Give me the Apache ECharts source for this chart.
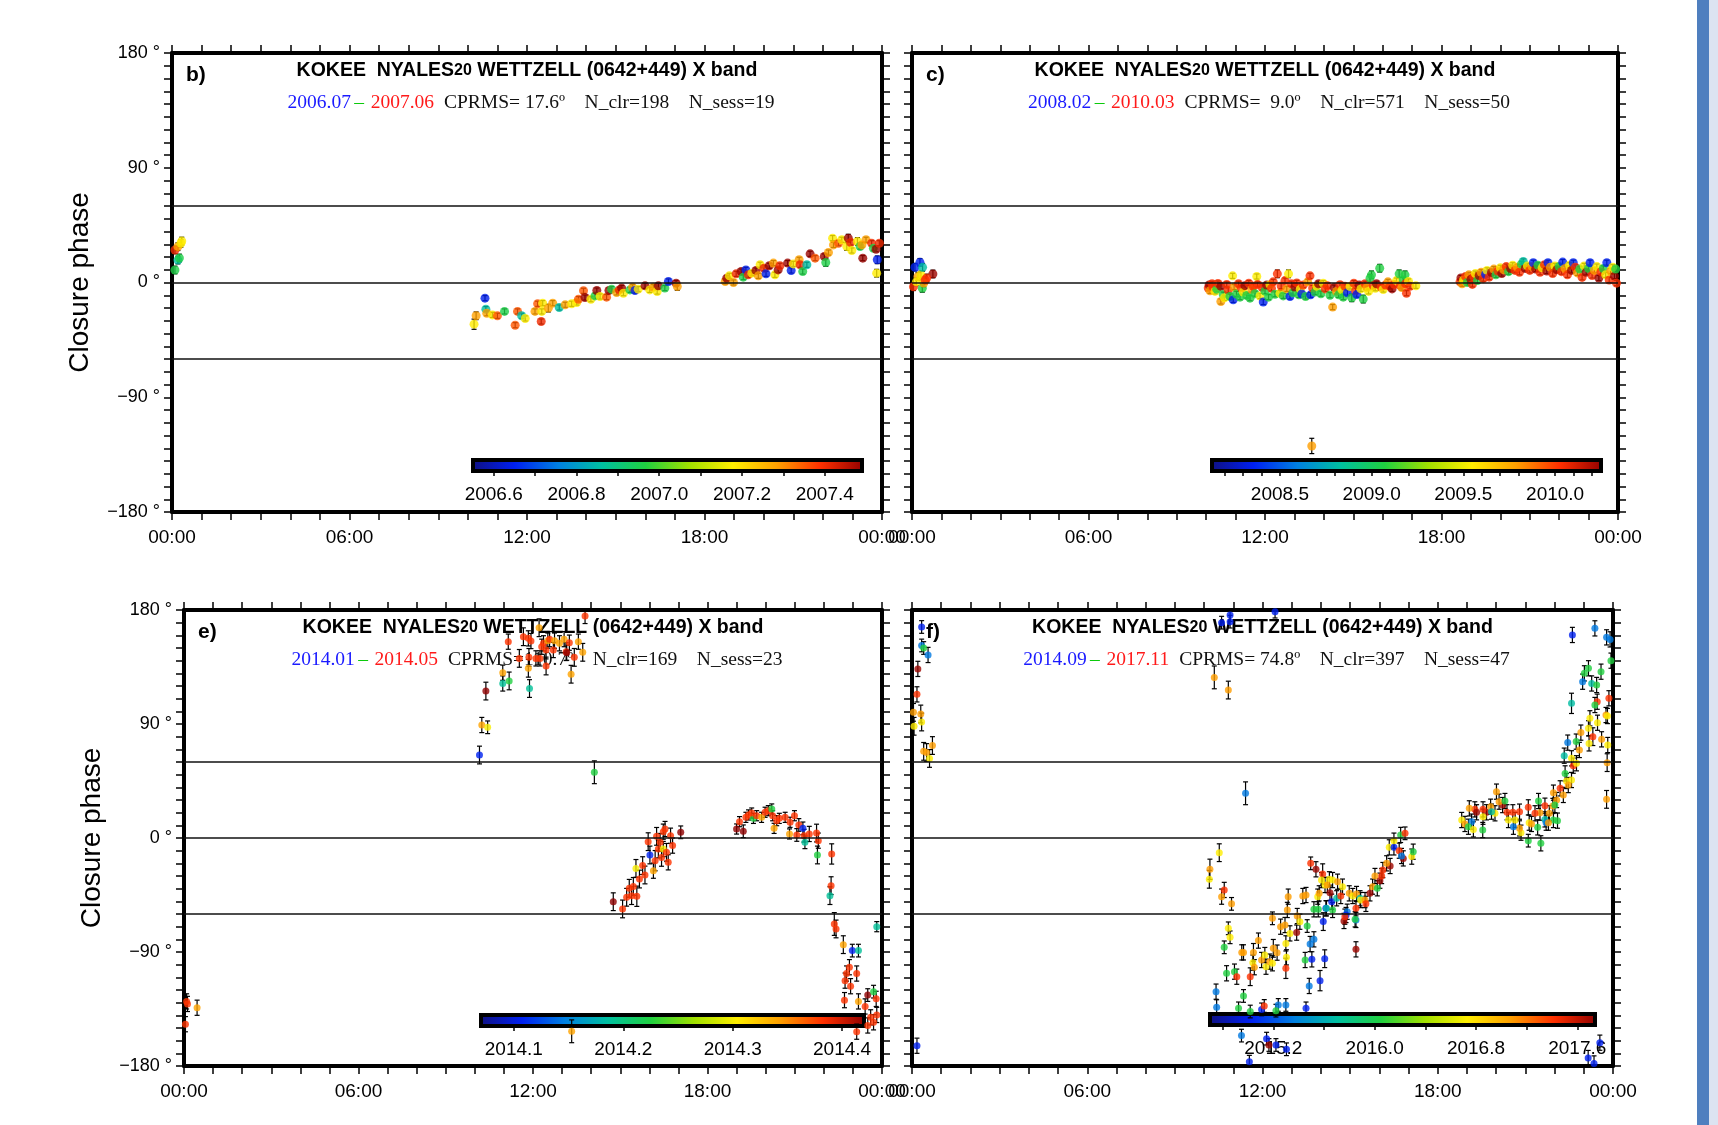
<!DOCTYPE html>
<html>
<head>
<meta charset="UTF-8">
<title>Closure phase</title>
<script src="https://cdn.jsdelivr.net/npm/echarts@6/dist/echarts.min.js"></script>
<style>
  * { margin: 0; padding: 0; }
  body { background: #fff; }
  #chart { width: 1718px; height: 1125px; }
</style>
</head>
<body>
<div id="chart"></div>
<script>
// each point: [hour of day, closure phase (deg), epoch (yr) -> colour, error (deg)]
const ptsB = [
  [0.10,9.8,2006.96,3],[0.20,17.6,2006.86,3],[0.25,19.2,2006.96,3],[0.10,25.5,2007.40,3],[0.20,28.1,2007.28,3],
  [0.30,30.7,2007.18,3],[0.33,32.5,2007.18,3],
  [10.21,-32.7,2007.18,4],[10.28,-26.1,2007.28,3],[10.58,-12.3,2006.65,2],[10.61,-20.9,2006.86,2],[10.64,-24.1,2007.28,2],
  [10.83,-25.4,2007.18,2],[11.00,-26.1,2007.35,2],[11.24,-22.7,2006.96,2],[11.60,-33.5,2007.35,2],[11.68,-22.7,2007.35,2],
  [11.82,-26.1,2006.86,2],[11.94,-28.2,2007.18,2],[12.27,-22.7,2007.28,2],[12.36,-16.7,2007.35,2],[12.48,-30.6,2007.40,2],
  [12.50,-22.7,2007.18,2],[12.53,-16.2,2007.18,2],[12.72,-20.1,2007.28,3],[12.87,-16.2,2007.28,2],[13.09,-19.6,2006.86,2],
  [13.29,-17.5,2007.28,2],[13.51,-16.7,2007.18,2],[13.68,-15.7,2007.18,2],[13.74,-13.1,2007.35,2],[13.91,-6.5,2007.35,2],
  [13.96,-11.8,2007.48,2],[14.16,-13.1,2007.18,2],[14.30,-10.5,2006.96,2],[14.36,-6.3,2007.48,2],[14.47,-11.0,2007.18,2],
  [14.69,-11.5,2007.35,2],[14.77,-6.3,2007.48,2],[14.86,-5.2,2006.96,2],[15.03,-7.8,2007.28,2],[15.12,-5.8,2007.40,2],
  [15.20,-4.4,2007.48,2],[15.26,-8.4,2007.18,2],[15.48,-5.8,2006.96,2],[15.57,-3.7,2007.28,2],[15.65,-6.3,2006.65,2],
  [15.76,-5.2,2007.18,2],[15.99,-2.6,2007.48,2],[16.15,-5.8,2007.18,2],[16.27,-3.7,2007.28,2],[16.40,-7.1,2007.18,2],
  [16.44,-2.6,2007.48,2],[16.66,-4.4,2006.96,2],[16.78,0.8,2006.65,2],[17.04,-0.5,2007.48,2],[17.08,-3.1,2007.28,3],
  [18.70,0.8,2007.28,2],[18.75,3.4,2007.48,2],[18.84,5.2,2007.18,2],[18.98,0.0,2007.28,2],[19.07,6.8,2007.40,2],
  [19.24,8.6,2007.48,2],[19.31,4.2,2006.96,2],[19.40,9.9,2006.65,2],[19.48,6.0,2007.40,2],[19.60,7.3,2007.18,2],
  [19.74,9.4,2007.48,2],[19.82,5.2,2007.28,2],[19.88,13.9,2007.18,2],[20.01,11.2,2007.40,2],[20.08,6.8,2006.65,2],
  [20.19,13.1,2007.48,2],[20.33,15.2,2007.28,2],[20.38,6.0,2007.18,2],[20.49,9.9,2007.48,2],[20.55,13.1,2007.40,2],
  [20.81,15.2,2007.48,2],[20.93,9.4,2006.65,2],[21.00,14.6,2007.18,2],[21.20,17.8,2007.28,2],[21.23,13.9,2007.40,2],
  [21.32,8.6,2006.96,2],[21.46,13.9,2006.86,2],[21.57,22.5,2007.48,2],[21.74,19.1,2007.35,2],[22.05,20.4,2007.48,2],
  [22.10,15.7,2006.96,3],[22.19,23.5,2007.28,2],[22.33,34.8,2007.18,2],[22.36,29.5,2007.28,2],[22.53,30.8,2007.35,2],
  [22.64,33.5,2007.18,2],[22.81,28.2,2007.18,3],[22.86,34.8,2007.48,3],[22.94,31.4,2007.40,2],[22.98,25.1,2007.18,2],
  [23.17,32.2,2007.18,3],[23.26,28.2,2006.96,2],[23.32,29.5,2007.28,2],[23.35,19.1,2007.48,2],[23.46,33.5,2007.28,2],
  [23.65,30.8,2007.40,2],[23.71,26.9,2006.96,2],[23.80,26.1,2007.48,2],[23.84,17.8,2006.65,3],[23.82,7.3,2007.18,3],
  [23.91,30.8,2007.40,2]
];

const ptsC = [
  [0.27,15.8,2008.37,3],[0.10,12.0,2008.37,3],[0.20,4.6,2009.78,3],[0.30,5.9,2009.54,3],[0.05,-3.3,2010.02,3],
  [0.35,-4.6,2009.07,3],[0.71,6.7,2010.22,3],[0.50,3.5,2010.02,3],[0.40,-0.4,2009.78,3],[0.36,11.9,2008.83,3],
  [0.15,0.5,2009.54,3],[0.45,2.0,2010.02,3],
  [10.07,-4.4,2010.02,2],[10.10,-2.0,2010.22,2],[10.13,-6.5,2009.78,2],[10.20,-1.0,2010.02,2],[10.24,-3.8,2010.02,2],
  [10.30,-7.0,2009.54,2],[10.36,-5.2,2009.07,2],[10.40,-0.8,2010.02,2],[10.50,-14.9,2009.78,2],[10.50,-3.0,2010.22,2],
  [10.58,-9.5,2009.07,2],[10.62,-12.0,2009.54,2],[10.70,-1.5,2010.02,2],[10.75,-6.0,2010.02,2],[10.81,-11.0,2009.07,2],
  [10.90,5.2,2009.54,2],[10.92,-13.6,2008.37,2],[10.95,-3.6,2009.78,2],[11.03,-9.0,2009.07,2],[11.10,-1.0,2010.02,2],
  [11.15,-11.5,2009.07,2],[11.20,-4.4,2010.02,2],[11.26,-7.5,2009.54,2],[11.32,-2.5,2010.22,2],[11.38,-10.2,2009.07,2],
  [11.45,-0.5,2010.02,2],[11.49,-12.3,2009.07,2],[11.55,-5.5,2009.78,2],[11.60,-3.0,2010.02,2],[11.66,-8.8,2009.07,2],
  [11.72,4.7,2009.54,2],[11.75,-1.5,2010.02,2],[11.83,-10.6,2009.54,2],[11.90,-3.8,2010.02,2],[11.94,-15.3,2008.37,2],
  [12.00,-6.8,2009.07,2],[12.06,-2.0,2010.22,2],[12.12,-11.5,2009.07,2],[12.17,-1.8,2009.54,2],[12.22,-4.6,2010.02,2],
  [12.28,0.5,2010.02,2],[12.34,-9.2,2009.07,2],[12.42,6.8,2010.02,3],[12.51,-8.4,2009.54,2],[12.55,-2.8,2010.02,2],
  [12.62,-10.5,2009.07,2],[12.68,1.5,2010.02,2],[12.74,-5.0,2009.78,2],[12.80,6.8,2009.54,3],[12.85,-11.0,2008.37,2],
  [12.90,-1.0,2010.02,2],[12.95,-8.0,2009.07,2],[13.02,-3.6,2010.22,2],[13.08,-0.3,2010.02,2],[13.15,-9.7,2009.07,2],
  [13.20,-5.2,2009.54,2],[13.25,-9.0,2008.37,2],[13.30,-2.0,2010.02,2],[13.38,-11.0,2009.07,2],[13.45,0.5,2009.78,2],
  [13.53,5.2,2010.02,2],[13.55,-9.7,2008.37,2],[13.62,-4.4,2010.02,2],[13.70,-7.5,2009.07,2],[13.76,-3.0,2009.54,2],
  [13.82,-1.0,2010.22,2],[13.90,-8.8,2009.07,2],[13.98,-0.5,2009.54,2],[14.05,-5.0,2010.02,2],[14.12,-2.5,2010.02,2],
  [14.21,-10.0,2009.07,2],[14.30,-19.3,2009.78,2],[14.35,-4.0,2010.22,2],[14.43,-7.0,2009.78,2],[14.50,-9.7,2009.07,2],
  [14.55,-1.8,2010.02,2],[14.62,-5.8,2009.54,2],[14.66,-11.5,2009.07,2],[14.72,-3.0,2010.02,2],[14.80,-8.0,2008.37,2],
  [14.89,-3.1,2009.54,2],[14.95,-12.0,2009.07,3],[15.02,-0.5,2010.02,2],[15.08,-6.5,2010.02,2],[15.12,-9.5,2008.37,2],
  [15.20,-2.0,2010.22,2],[15.26,-5.0,2009.54,2],[15.34,-13.0,2009.07,3],[15.40,-1.0,2010.02,2],[15.47,-4.0,2009.78,2],
  [15.52,-7.0,2009.54,2],[15.57,3.4,2009.07,3],[15.62,6.0,2009.07,3],[15.68,-2.5,2010.02,2],[15.75,-4.5,2009.54,2],
  [15.79,-1.0,2010.22,2],[15.90,11.2,2009.07,3],[15.95,-3.5,2010.02,2],[16.02,-5.5,2009.54,2],[16.10,-2.0,2010.02,2],
  [16.18,0.5,2009.78,2],[16.25,-3.0,2010.02,2],[16.32,-5.0,2010.22,2],[16.40,-1.5,2010.02,2],[16.47,1.5,2009.54,2],
  [16.56,6.8,2009.07,3],[16.60,-2.5,2010.02,2],[16.65,-4.0,2009.78,2],[16.70,2.2,2009.07,2],[16.76,6.0,2009.07,3],
  [16.78,-1.0,2010.02,2],[16.81,-8.4,2010.02,2],[16.88,0.8,2009.54,2],[16.93,-3.0,2010.02,2],[17.13,-2.6,2009.54,2],
  [13.59,-128.2,2009.78,6],
  [18.63,0.5,2010.02,2],[18.66,3.5,2010.22,2],[18.70,-1.0,2009.78,2],[18.75,2.0,2009.54,2],[18.82,4.7,2010.02,2],
  [18.88,0.0,2009.07,2],[18.93,6.0,2009.78,2],[19.00,2.5,2010.22,2],[19.05,-1.5,2010.02,2],[19.10,4.5,2010.02,2],
  [19.15,7.0,2009.54,2],[19.22,1.5,2009.07,2],[19.28,5.5,2010.22,2],[19.35,8.0,2009.78,2],[19.42,3.0,2010.02,2],
  [19.50,6.5,2008.37,2],[19.55,9.5,2009.54,2],[19.62,4.2,2010.02,2],[19.70,7.8,2010.22,2],[19.78,10.5,2009.78,2],
  [19.85,6.0,2009.07,2],[19.92,9.0,2010.02,2],[20.00,11.5,2009.54,2],[20.05,7.0,2010.22,2],[20.12,10.0,2009.78,2],
  [20.20,12.5,2010.02,2],[20.28,8.5,2009.07,2],[20.35,11.0,2010.22,2],[20.42,13.5,2009.54,2],[20.50,9.5,2010.02,2],
  [20.58,12.0,2009.78,2],[20.65,8.0,2010.02,2],[20.72,14.5,2009.07,2],[20.78,16.5,2008.83,2],[20.85,11.0,2010.22,2],
  [20.92,13.0,2009.54,2],[21.00,9.5,2010.02,2],[21.08,12.5,2009.78,2],[21.12,15.5,2008.37,2],[21.20,10.5,2010.22,2],
  [21.28,13.5,2009.07,2],[21.35,8.0,2010.02,2],[21.42,11.5,2009.54,2],[21.50,14.0,2010.02,2],[21.58,9.0,2010.22,2],
  [21.62,15.5,2008.37,2],[21.70,12.0,2009.78,2],[21.78,7.0,2010.02,2],[21.85,13.0,2009.54,2],[21.92,10.0,2010.22,2],
  [22.00,12.5,2009.07,2],[22.08,8.5,2010.02,2],[22.12,16.0,2008.37,2],[22.20,11.0,2009.78,2],[22.28,6.0,2010.02,2],
  [22.35,13.5,2009.54,2],[22.42,9.5,2010.22,2],[22.48,15.5,2008.37,2],[22.55,12.0,2010.02,2],[22.62,7.5,2009.78,2],
  [22.70,10.5,2009.07,2],[22.78,4.0,2010.02,2],[22.85,13.0,2009.54,2],[22.92,8.0,2010.22,2],[23.00,11.0,2009.07,2],
  [23.05,15.5,2008.37,2],[23.12,5.5,2010.02,2],[23.20,9.5,2009.78,2],[23.28,12.5,2009.54,2],[23.35,3.5,2010.22,2],
  [23.42,8.5,2010.02,2],[23.50,11.0,2009.07,2],[23.58,6.0,2009.54,2],[23.62,15.5,2008.37,2],[23.70,2.0,2010.02,2],
  [23.75,9.0,2009.78,2],[23.82,12.0,2009.54,2],[23.88,5.0,2010.22,2],[23.95,-0.5,2010.02,2],[23.92,10.5,2009.07,2]
];

const ptsE = [
  [0.09,-129,2014.38,6],[0.12,-131,2014.38,6],[0.45,-134,2014.34,6],[0.05,-147,2014.38,6],[13.33,-152.6,2014.34,9],
  [10.16,65.5,2014.11,7],[10.24,89.2,2014.34,6],[10.44,87.4,2014.30,5],[10.38,116,2014.42,7],[10.96,130.5,2014.34,6],
  [10.96,122,2014.19,6],[11.18,124,2014.225,7],[11.15,155,2014.38,6],[11.88,118,2014.19,7],[11.84,134,2014.34,7],
  [11.67,158.9,2014.38,7],[11.84,157.6,2014.38,6],[11.93,155.5,2014.38,6],[12.21,166,2014.34,7],[11.53,141.8,2014.38,7],
  [11.86,142.6,2014.38,7],[12.10,141.8,2014.38,6],[12.24,141.8,2014.38,6],[12.30,151,2014.38,6],[12.36,153.7,2014.38,6],
  [12.45,148.4,2014.38,7],[12.45,135.8,2014.38,7],[12.51,155.8,2014.34,6],[12.57,157,2014.38,6],[12.74,155.8,2014.34,6],
  [12.70,148.4,2014.38,6],[12.91,153.7,2014.34,6],[13.07,157,2014.34,6],[13.14,147.1,2014.38,7],[13.25,154.2,2014.38,6],
  [13.16,146.3,2014.42,6],[13.42,142.6,2014.38,7],[13.56,155,2014.34,6],[13.71,146.6,2014.34,7],[13.31,129.3,2014.34,7],
  [13.79,175.3,2014.38,6],[14.11,51.9,2014.225,9],
  [14.76,-50.3,2014.42,7],[15.08,-56,2014.38,7],[15.22,-46.8,2014.38,7],[15.31,-39.7,2014.38,7],[15.39,-45.5,2014.38,7],
  [15.45,-38.2,2014.38,7],[15.57,-46,2014.38,8],[15.54,-24,2014.30,7],[15.66,-32.4,2014.38,7],[15.77,-21.8,2014.38,7],
  [15.85,-29.2,2014.38,7],[15.96,-2.9,2014.38,7],[16.02,-13.4,2014.11,7],[16.14,-25.8,2014.34,6],[16.20,-17.9,2014.38,8],
  [16.25,1.3,2014.38,7],[16.31,-8.7,2014.38,7],[16.37,-3.4,2014.38,7],[16.42,-15.3,2014.38,7],[16.48,5,2014.38,6],
  [16.48,-8.7,2014.30,6],[16.54,7.1,2014.38,6],[16.59,-11.3,2014.38,7],[16.65,-19.2,2014.38,6],[16.73,1.8,2014.38,6],
  [16.80,-6,2014.38,6],[17.08,4.5,2014.42,5],
  [19.00,7.1,2014.42,4],[19.10,12.9,2014.38,4],[19.23,5.3,2014.42,5],[19.32,16.3,2014.38,4],[19.41,18.2,2014.38,4],
  [19.58,15.5,2014.225,4],[19.52,19.7,2014.38,4],[19.69,17.6,2014.38,4],[19.86,16.3,2014.34,4],[19.98,20.3,2014.38,4],
  [20.09,21.6,2014.38,4],[20.21,22.9,2014.225,4],[20.24,17.6,2014.38,4],[20.29,7.6,2014.34,4],[20.38,13.7,2014.38,4],
  [20.47,15.5,2014.38,4],[20.67,16.3,2014.38,4],[20.84,12.4,2014.38,4],[20.82,3.2,2014.34,4],[20.99,17.6,2014.38,4],
  [21.07,2.4,2014.38,5],[21.14,10.3,2014.38,5],[21.28,7.6,2014.11,5],[21.32,1.8,2014.38,5],[21.35,-3.4,2014.19,5],
  [21.50,3.2,2014.38,6],[21.75,3.9,2014.38,7],[21.78,-13.4,2014.225,7],[21.81,-2.1,2014.38,6],[22.27,-12.6,2014.38,8],
  [22.25,-37.6,2014.38,7],[22.21,-45.5,2014.19,7],[22.36,-67.9,2014.38,9],[22.42,-71.8,2014.38,7],[22.67,-84.2,2014.34,7],
  [22.98,-88.9,2014.11,5],[23.19,-88.9,2014.19,5],[22.88,-102,2014.38,6],[22.78,-107,2014.38,6],[22.73,-112.6,2014.38,6],
  [22.92,-117,2014.38,6],[23.13,-107,2014.38,6],[22.71,-128,2014.38,6],[23.19,-129,2014.34,6],[23.13,-152.9,2014.38,6],
  [23.51,-124,2014.42,5],[23.42,-133,2014.38,6],[23.71,-121.3,2014.225,5],[23.80,-127,2014.38,6],[23.61,-141.6,2014.38,6],
  [23.82,-139.7,2014.38,6],[23.51,-148,2014.38,6],[23.71,-145.5,2014.38,6],[23.82,-70,2014.19,4]
];

const ptsF = [
  [0.33,166.6,2015.04,5],[0.33,152,2015.35,5],[0.40,150,2016.05,5],[0.55,144.5,2015.35,6],[0.20,133.5,2017.70,6],
  [0.17,113.4,2017.40,6],[0.05,99.2,2017.07,7],[0.30,97.9,2017.07,7],[0.33,91.6,2016.73,7],[0.07,88.2,2016.73,7],
  [0.40,68.4,2017.07,7],[0.50,67.5,2017.07,7],[0.70,73,2017.07,7],[0.60,62.8,2016.73,7],[0.17,-164,2015.04,6],
  [10.60,170,2015.04,5],[10.89,176,2015.04,5],[10.89,170.8,2015.04,5],[12.43,178.7,2015.04,5],[10.35,126.8,2017.07,9],
  [10.83,116.8,2017.07,7],[11.42,35.3,2015.35,9],
  [10.18,-32.6,2016.73,7],[10.20,-24.7,2017.07,8],[10.52,-11.6,2016.73,7],[10.60,-46.3,2017.07,6],[10.69,-41,2017.40,6],
  [10.94,-52,2017.07,5],[10.83,-71.3,2016.73,5],[10.89,-78.4,2016.73,5],[10.69,-86.3,2016.05,5],[10.77,-106.8,2016.05,6],
  [11.04,-105.5,2016.05,6],[11.12,-109.5,2017.40,6],[10.41,-121.3,2015.35,6],[10.43,-133.7,2015.35,6],[11.29,-90.3,2017.07,6],
  [11.35,-90.3,2017.07,6],[11.35,-124.7,2016.05,5],[11.58,-109.5,2017.40,7],[11.69,-90.3,2017.07,7],[11.67,-98.4,2016.73,6],
  [11.72,-102,2017.07,6],[11.86,-81,2017.07,6],[11.97,-96.3,2017.07,6],[12.08,-92.4,2016.73,6],[12.12,-101.6,2016.73,6],
  [12.25,-97.6,2017.07,6],[12.34,-98.9,2016.73,6],[12.37,-87.1,2017.07,7],[12.50,-90.5,2017.07,6],[12.34,-63.4,2017.07,5],
  [12.62,-70,2017.07,6],[12.77,-68.7,2017.07,6],[12.80,-83.2,2016.73,6],[12.82,-94.2,2016.73,6],[12.80,-102.9,2017.40,8],
  [12.85,-56.8,2017.07,6],[12.88,-46.3,2017.07,6],[12.94,-75.3,2016.73,6],[13.19,-61.6,2017.07,6],[13.17,-74.7,2017.70,6],
  [13.28,-66.1,2016.73,6],[13.53,-69.5,2016.05,5],[13.38,-45.8,2017.07,6],[13.49,-45,2017.07,6],[13.46,-96.3,2016.05,6],
  [13.63,-83.7,2015.35,6],[13.76,-80,2015.35,6],[13.69,-95.8,2015.04,6],[13.60,-116.8,2015.35,6],[13.97,-112.6,2015.04,8],
  [14.13,-95.3,2015.04,7],[14.08,-66,2015.04,7],[13.76,-56.3,2016.05,6],[13.91,-56.3,2016.05,6],[13.89,-46.3,2016.73,6],
  [13.94,-43.7,2017.07,6],[13.65,-20,2017.40,5],[13.83,-24.7,2017.70,6],[14.06,-28.4,2017.40,8],[14.02,-33.2,2016.73,6],
  [14.14,-37.1,2016.73,6],[14.29,-32.6,2016.73,6],[14.40,-33.2,2016.73,6],[14.57,-34.5,2017.07,6],[14.17,-55.5,2015.04,6],
  [14.19,-55.5,2015.70,6],[14.40,-56.8,2016.05,6],[14.37,-50.3,2015.04,6],[14.31,-43.2,2017.70,6],[14.22,-37.1,2017.07,6],
  [14.54,-47.6,2015.70,6],[14.68,-45.8,2017.40,6],[14.74,-38.4,2016.73,6],[14.97,-43.7,2017.07,6],[15.09,-45.8,2016.73,6],
  [15.22,-44.2,2017.07,6],[15.34,-47.6,2015.70,6],[14.90,-58.2,2015.35,6],[14.79,-65.5,2017.70,6],[14.86,-60.8,2015.04,6],
  [14.82,-62.1,2017.40,6],[15.20,-64.7,2015.35,6],[15.17,-64.2,2016.05,6],[15.20,-87.9,2017.70,6],[15.20,-55.5,2017.40,6],
  [15.36,-49,2016.73,6],[15.51,-49,2017.07,6],[15.54,-52,2017.40,6],[15.68,-43.7,2017.70,6],[15.77,-38.4,2017.07,6],
  [15.85,-30,2017.07,6],[15.93,-39.7,2016.05,6],[16.02,-33.7,2017.70,6],[16.08,-30,2017.40,6],[16.12,-25.3,2017.40,6],
  [16.37,-22.1,2017.70,6],[16.25,-20,2017.07,6],[16.34,-7.4,2016.73,6],[16.50,-7.4,2015.04,6],[16.50,-2.1,2016.73,6],
  [16.68,-10,2017.40,6],[16.73,2.4,2016.05,6],[16.88,3.7,2017.40,5],[16.82,-16.1,2017.70,6],[17.11,-14.7,2016.73,6],
  [17.16,-10.8,2016.05,6],[16.76,-14.2,2015.35,6],
  [11.28,-156,2015.35,5],[11.55,-176.6,2015.04,5],[12.14,-158.4,2015.04,5],[12.46,-163.4,2015.04,5],[12.22,-163.4,2017.70,5],
  [12.82,-166.8,2015.04,5],[11.97,-135.3,2015.04,5],[12.54,-131.8,2015.35,5],[12.80,-131.8,2015.35,5],[11.18,-134.5,2016.05,5],
  [12.06,-132.6,2017.40,5],[13.49,-134.5,2015.04,5],[12.46,-136.3,2016.05,5],[11.58,-137,2016.05,5],
  [22.61,160.3,2015.04,6],[23.38,165.5,2015.35,6],[23.78,158.4,2015.35,6],[23.90,156.8,2015.35,6],[23.93,140,2016.05,6],
  [22.96,123.4,2015.35,6],[23.02,130,2016.05,6],[23.16,134,2016.05,6],[23.27,122,2015.70,6],[23.44,120.8,2016.05,6],
  [23.59,131.3,2016.05,6],[22.58,106.3,2015.70,8],[23.46,107.6,2017.40,6],[23.86,110.3,2017.40,6],[23.38,105,2016.05,6],
  [23.21,94.5,2016.73,6],[23.47,91,2016.73,6],[23.76,97.1,2017.07,6],[23.81,96.3,2016.73,6],[22.90,83.2,2017.07,6],
  [23.16,86.6,2016.73,6],[23.31,80,2017.40,7],[23.18,74.7,2016.73,6],[23.61,77.9,2017.07,6],[23.82,73.4,2016.73,6],
  [22.85,69.5,2017.07,6],[22.74,76.1,2016.05,6],[22.45,75.3,2015.35,6],[22.33,65,2015.70,6],[23.80,59.5,2017.07,7],
  [23.78,30.5,2017.07,7],[22.58,62.9,2016.73,6],[22.64,57.1,2017.40,6],[22.75,59,2016.73,6],[22.36,51,2016.05,6],
  [22.41,45,2016.73,6],[22.58,45.8,2016.73,6],[22.19,39.2,2017.40,6],[22.47,41.8,2017.07,6],[22.30,34,2017.07,6],
  [21.96,35.8,2017.07,6],[22.07,30,2017.07,6],[21.94,25.3,2017.07,6],[22.01,26,2016.05,6],[21.82,19.5,2017.07,6],
  [21.67,14.7,2015.70,6],[21.96,14.2,2016.05,6],[22.10,13.7,2016.05,6],[21.71,12.1,2015.35,6],[21.79,12.1,2017.07,6],
  [21.67,25.5,2017.40,6],[21.50,20,2017.07,6],[21.45,29.2,2016.05,6],[21.13,12.1,2016.73,6],[21.10,24.2,2017.40,6],
  [21.33,19.5,2017.40,6],[21.42,8.4,2016.05,6],[21.10,-2.1,2016.05,5],[21.53,-4.2,2016.05,6],[21.21,11.1,2017.07,6],
  [20.85,4.2,2016.73,6],[20.80,7.6,2017.07,6],[20.59,8.9,2015.35,6],[20.65,14.2,2016.73,6],[20.80,20.8,2017.40,6],
  [20.57,20.3,2017.40,6],[20.37,20.3,2017.40,6],[20.42,14.2,2016.73,6],[20.22,26,2017.70,6],[20.10,28.7,2017.07,6],
  [20.01,36.6,2017.07,6],[20.30,29.2,2016.05,6],[19.67,20.3,2017.70,6],[19.27,22.6,2017.40,6],[19.33,20.3,2017.70,6],
  [19.81,24.7,2017.07,6],[19.55,16.8,2016.73,6],[19.96,19.5,2016.73,6],[19.84,20.8,2015.70,6],[19.08,23.4,2017.07,6],
  [19.16,12.9,2015.35,6],[18.82,14.2,2016.73,6],[18.93,11.1,2017.07,6],[19.05,8.9,2016.05,6],[19.22,6.8,2016.73,6],
  [19.54,6.3,2016.05,6],[19.55,22.6,2017.40,6],
  [23.55,-161.6,2015.04,6],[23.15,-173.7,2015.04,6],[23.35,-178,2015.04,6]
];

// colour bar ranges (yr), label positions and tick positions
const cbRangeB = [2006.55, 2007.49];
const cbLabelsB = [2006.6, 2006.8, 2007.0, 2007.2, 2007.4];
const cbTicksB = [2006.6, 2006.7, 2006.8, 2006.9, 2007.0, 2007.1, 2007.2, 2007.3, 2007.4];
const cbRangeC = [2008.13, 2010.25];
const cbLabelsC = [2008.5, 2009.0, 2009.5, 2010.0];
const cbTicksC = [2008.2, 2008.3, 2008.4, 2008.5, 2008.6, 2008.7, 2008.8, 2008.9, 2009.0, 2009.1, 2009.2,
  2009.3, 2009.4, 2009.5, 2009.6, 2009.7, 2009.8, 2009.9, 2010.0, 2010.1, 2010.2];
const cbRangeE = [2014.07, 2014.42];
const cbLabelsE = [2014.1, 2014.2, 2014.3, 2014.4];
const cbTicksE = [2014.1, 2014.2, 2014.3, 2014.4];
const cbRangeF = [2014.70, 2017.74];
const cbLabelsF = [2015.2, 2016.0, 2016.8, 2017.6];
const cbTicksF = [2014.8, 2015.2, 2015.6, 2016.0, 2016.4, 2016.8, 2017.2, 2017.6];

const refLines = [-60, 0, 60];

// header texts
const headB = { d0: '2006.07', d1: '2007.06', stats: 'CPRMS= 17.6º    N_clr=198    N_sess=19' };
const headC = { d0: '2008.02', d1: '2010.03', stats: 'CPRMS=  9.0º    N_clr=571    N_sess=50' };
const headE = { d0: '2014.01', d1: '2014.05', stats: 'CPRMS=110.7º    N_clr=169    N_sess=23' };
const headF = { d0: '2014.09', d1: '2017.11', stats: 'CPRMS= 74.8º    N_clr=397    N_sess=47' };

const palette = ['#101080', '#0020f0', '#0080e0', '#00c0a0', '#20d040', '#a0e000', '#ffee00', '#ffa000', '#ff3000', '#900000'];

const chart = echarts.init(document.getElementById('chart'));

const panels = [
  { pts: ptsB, cb: cbRangeB, cbLabels: cbLabelsB, cbTicks: cbTicksB, head: headB, letter: 'b)', yName: true,
    grid: { left: 172, top: 53, width: 710, height: 459 }, cbGrid: { left: 473, top: 460, width: 389, height: 11 }, size: 9 },
  { pts: ptsC, cb: cbRangeC, cbLabels: cbLabelsC, cbTicks: cbTicksC, head: headC, letter: 'c)', yName: false,
    grid: { left: 912, top: 53, width: 706, height: 459 }, cbGrid: { left: 1212, top: 460, width: 389, height: 11 }, size: 9 },
  { pts: ptsE, cb: cbRangeE, cbLabels: cbLabelsE, cbTicks: cbTicksE, head: headE, letter: 'e)', yName: true,
    grid: { left: 184, top: 610, width: 698, height: 456 }, cbGrid: { left: 481, top: 1015, width: 383, height: 11 }, size: 7 },
  { pts: ptsF, cb: cbRangeF, cbLabels: cbLabelsF, cbTicks: cbTicksF, head: headF, letter: 'f)', yName: false,
    grid: { left: 912, top: 610, width: 701, height: 456 }, cbGrid: { left: 1210, top: 1014, width: 385, height: 11 }, size: 7 }
];

const gradStops = palette.map((c, i) => ({ offset: i / (palette.length - 1), color: c }));
const axisFont = { fontFamily: 'Liberation Sans', fontSize: 19, color: '#000' };

function pad(h) { h = h % 24; return (h < 10 ? '0' : '') + h + ':00'; }

function errBar(params, api) {
  const x = api.value(0), y = api.value(1), e = api.value(3);
  const a = api.coord([x, y + e]), b = api.coord([x, y - e]);
  const w = 2.5;
  const style = { stroke: '#000', lineWidth: 1.2 };
  return {
    type: 'group',
    children: [
      { type: 'line', shape: { x1: a[0], y1: a[1], x2: b[0], y2: b[1] }, style },
      { type: 'line', shape: { x1: a[0] - w, y1: a[1], x2: a[0] + w, y2: a[1] }, style },
      { type: 'line', shape: { x1: b[0] - w, y1: b[1], x2: b[0] + w, y2: b[1] }, style }
    ]
  };
}

const grids = [], xAxes = [], yAxes = [], series = [], visualMaps = [], graphics = [];
const tickStyle = { color: '#000', width: 1.5 };

panels.forEach((p, i) => {
  const g = 2 * i, cg = 2 * i + 1;
  grids.push(Object.assign({ show: false }, p.grid));
  grids.push(Object.assign({
    show: true, borderColor: '#000', borderWidth: 4,
    backgroundColor: new echarts.graphic.LinearGradient(0, 0, 1, 0, gradStops)
  }, p.cbGrid));

  const xi = xAxes.length;
  ['bottom', 'top'].forEach((pos, k) => {
    xAxes.push({
      gridIndex: g, type: 'value', position: pos, min: 0, max: 24, interval: 6,
      axisLine: { onZero: false, lineStyle: { color: '#000', width: 4 } },
      axisTick: { show: true, length: 8, lineStyle: tickStyle },
      minorTick: { show: true, splitNumber: 6, length: 8, lineStyle: tickStyle },
      axisLabel: Object.assign({ show: k === 0, margin: 16, formatter: pad }, axisFont),
      splitLine: { show: false }
    });
  });
  xAxes.push({
    gridIndex: cg, type: 'value', position: 'bottom', min: p.cb[0], max: p.cb[1],
    axisLine: { show: false },
    axisTick: { show: true, length: 5, customValues: p.cbTicks, lineStyle: tickStyle },
    axisLabel: Object.assign({ margin: 14, customValues: p.cbLabels, formatter: v => v.toFixed(1) }, axisFont),
    splitLine: { show: false }
  });

  ['left', 'right'].forEach((pos, k) => {
    yAxes.push({
      gridIndex: g, type: 'value', position: pos, min: -180, max: 180, interval: 90,
      name: (k === 0 && p.yName) ? 'Closure phase' : '',
      nameLocation: 'middle', nameGap: 78,
      nameTextStyle: { fontFamily: 'Liberation Sans', fontSize: 28, color: '#000' },
      axisLine: { onZero: false, lineStyle: { color: '#000', width: 4 } },
      axisTick: { show: true, length: 8, lineStyle: tickStyle },
      minorTick: { show: true, splitNumber: 9, length: 8, lineStyle: tickStyle },
      axisLabel: {
        show: k === 0 && p.yName, margin: 12, fontSize: 18, fontFamily: 'Liberation Sans', color: '#000',
        formatter: v => (v < 0 ? '\u2212' + (-v) : v) + ' °'
      },
      splitLine: { show: false }
    });
  });
  yAxes.push({ gridIndex: cg, type: 'value', show: false, min: 0, max: 1 });

  series.push({
    type: 'custom', xAxisIndex: xi, yAxisIndex: xi, data: p.pts, renderItem: errBar,
    encode: { x: 0, y: 1 }, clip: true, silent: true, z: 3
  });
  series.push({
    type: 'scatter', xAxisIndex: xi, yAxisIndex: xi, data: p.pts, symbolSize: p.size,
    encode: { x: 0, y: 1 }, clip: true, silent: true, z: 4,
    markLine: {
      silent: true, symbol: ['none', 'none'], label: { show: false },
      lineStyle: { color: '#111', width: 1.5, type: 'solid' },
      data: refLines.map(v => ({ yAxis: v }))
    }
  });
  visualMaps.push({
    type: 'continuous', show: false, seriesIndex: series.length - 1, dimension: 2,
    min: p.cb[0], max: p.cb[1], inRange: { color: palette }
  });

  const cx = p.grid.left + p.grid.width / 2;
  graphics.push({
    type: 'text', z: 1, x: cx, y: p.grid.top + 18,
    style: {
      text: '{t|KOKEE  NYALES}{s|20}{t| WETTZELL (0642+449) X band}',
      align: 'center', verticalAlign: 'middle',
      rich: {
        t: { fontFamily: 'Liberation Sans', fontWeight: 'bold', fontSize: 19.5, fill: '#000' },
        s: { fontFamily: 'Liberation Sans', fontWeight: 'bold', fontSize: 16, fill: '#000' }
      }
    }
  });
  graphics.push({
    type: 'text', z: 1, x: cx + 4, y: p.grid.top + 50,
    style: {
      text: '{b|' + p.head.d0 + '} {g|–}  {r|' + p.head.d1 + '}   {k|' + p.head.stats + '}',
      align: 'center', verticalAlign: 'middle',
      rich: {
        b: { fontFamily: 'Liberation Serif', fontSize: 19.5, fill: '#1a1aff' },
        g: { fontFamily: 'Liberation Serif', fontSize: 19.5, fill: '#00c800' },
        r: { fontFamily: 'Liberation Serif', fontSize: 19.5, fill: '#ff1a1a' },
        k: { fontFamily: 'Liberation Serif', fontSize: 19.5, fill: '#111' }
      }
    }
  });
  graphics.push({
    type: 'text', z: 1, x: p.grid.left + 14, y: p.grid.top + 22,
    style: {
      text: p.letter, verticalAlign: 'middle',
      fontFamily: 'Liberation Sans', fontWeight: 'bold', fontSize: 21, fill: '#000'
    }
  });
});

// page edge strip on the right
graphics.push({ type: 'rect', z: 1, shape: { x: 1697, y: 0, width: 12, height: 1125 }, style: { fill: '#4f7fbf' } });
graphics.push({ type: 'rect', z: 1, shape: { x: 1709, y: 0, width: 9, height: 1125 }, style: { fill: '#dce3f1' } });

chart.setOption({
  animation: false,
  backgroundColor: '#fff',
  grid: grids,
  xAxis: xAxes,
  yAxis: yAxes,
  visualMap: visualMaps,
  series: series,
  graphic: graphics
});
</script>
</body>
</html>
